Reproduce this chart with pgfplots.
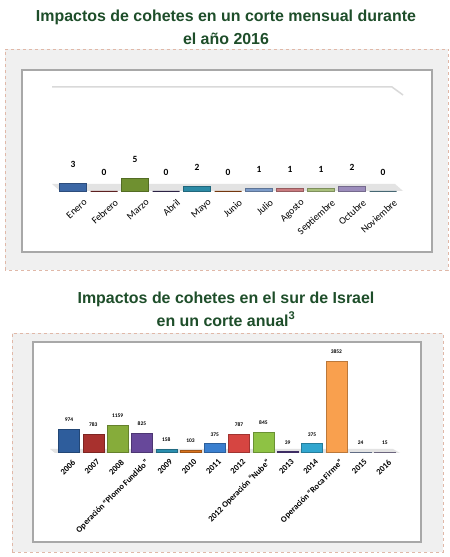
\documentclass[border=0pt]{standalone}
\usepackage{pgfplots}
\pgfplotsset{compat=1.18}
\usepackage{fontspec}
\setmainfont{Carlito}
\newfontfamily\titlefont{Liberation Sans}
\definecolor{titlegreen}{HTML}{1E4E2A}
\definecolor{peach}{HTML}{E0B8A8}
\definecolor{boxgray}{HTML}{F0F0F0}
\definecolor{innerborder}{HTML}{A8A8A8}
% top chart colours
\definecolor{t1}{HTML}{3C67A5}\definecolor{t2}{HTML}{7B2A2A}\definecolor{t3}{HTML}{6F9030}
\definecolor{t4}{HTML}{3B2E5A}\definecolor{t5}{HTML}{2C8AA5}\definecolor{t6}{HTML}{9A4A12}
\definecolor{t7}{HTML}{7D9CC9}\definecolor{t8}{HTML}{C97B7F}\definecolor{t9}{HTML}{A9C07C}
\definecolor{t10}{HTML}{9C8DBC}\definecolor{t11}{HTML}{5E8A99}
% bottom chart colours
\definecolor{b1}{HTML}{2E5D9C}\definecolor{b2}{HTML}{A8312E}\definecolor{b3}{HTML}{86AC3A}
\definecolor{b4}{HTML}{67489A}\definecolor{b5}{HTML}{2A8EAE}\definecolor{b6}{HTML}{D8731F}
\definecolor{b7}{HTML}{3A7FCF}\definecolor{b8}{HTML}{D64541}\definecolor{b9}{HTML}{8EC244}
\definecolor{b10}{HTML}{533C85}\definecolor{b11}{HTML}{31A6CF}\definecolor{b12}{HTML}{F9A04E}
\definecolor{b13}{HTML}{8090B0}\definecolor{b14}{HTML}{9088A8}
\newcommand\bbar[3]{\addplot[fill=#1, draw=#1!75!black] coordinates {(#2,#3)};}
\begin{document}
\begin{tikzpicture}[x=1bp,y=1bp]
\useasboundingbox (0,0) rectangle (450,557);
\fill[white] (0,0) rectangle (450,557);
% titles
\node[font=\titlefont\bfseries\fontsize{16}{23}\selectfont, text=titlegreen, align=center] at (226,530)
  {Impactos de cohetes en un corte mensual durante\\el año 2016};
\node[font=\titlefont\bfseries\fontsize{16}{23}\selectfont, text=titlegreen, align=center] at (226,248)
  {Impactos de cohetes en el sur de Israel\\en un corte anual\textsuperscript{3}};
% boxes
\draw[draw=peach, dashed, line width=0.8bp, fill=boxgray] (5,287) rectangle (448,508);
\draw[draw=innerborder, line width=1.3bp, fill=white] (22,305) rectangle (432,487);
\draw[draw=peach, dashed, line width=0.8bp, fill=boxgray] (12,5) rectangle (443,224);
\draw[draw=innerborder, line width=1.3bp, fill=white] (33,15) rectangle (421,215);
% top chart decorations
\draw[gray!30, line width=1.5bp] (52,470) -- (392,470) -- (403,462);
\fill[gray!22] (52,373) -- (395,373) -- (403,366) -- (60,366) -- cycle;
% bottom floor
\fill[gray!22] (50,108) -- (393,108) -- (400,104) -- (55,104) -- cycle;
\begin{axis}[
  at={(57.5bp,366bp)}, anchor=south west,
  scale only axis, width=341bp, height=104bp,
  xmin=-0.5, xmax=10.5, ymin=0, ymax=40,
  axis line style={draw=none}, ytick=\empty,
  xtick={0,...,10}, major tick length=0pt,
  xticklabels={Enero,Febrero,Marzo,Abril,Mayo,Junio,Julio,Agosto,Septiembre,Octubre,Noviembre},
  xticklabel style={rotate=42, anchor=north east, font=\fontsize{10}{12}\selectfont, xshift=6bp, yshift=-9bp},
  ybar, bar width=27bp, bar shift=0pt, clip=false,
  nodes near coords,
  nodes near coords style={/pgf/number format/assume math mode=true},
  every node near coord/.append style={font=\bfseries\fontsize{9.5}{10}\selectfont, yshift=12bp, text=black},
]
\bbar{t1}{0}{3}
\bbar{t2}{1}{0}
\bbar{t3}{2}{5}
\bbar{t4}{3}{0}
\bbar{t5}{4}{2}
\bbar{t6}{5}{0}
\bbar{t7}{6}{1}
\bbar{t8}{7}{1}
\bbar{t9}{8}{1}
\bbar{t10}{9}{2}
\bbar{t11}{10}{0}
\end{axis}
\begin{axis}[
  at={(56.85bp,104.5bp)}, anchor=south west,
  scale only axis, width=340.2bp, height=94.5bp,
  xmin=-0.5, xmax=13.5, ymin=0, ymax=4000,
  axis line style={draw=none}, ytick=\empty,
  xtick={0,...,13}, major tick length=0pt,
  xticklabels={2006,2007,2008,Operación ``Plomo Fundido'',2009,2010,2011,2012,2012 Operación ``Nube'',2013,2014,Operación ``Roca Firme'',2015,2016},
  xticklabel style={rotate=45, anchor=north east, font=\bfseries\fontsize{8.5}{10}\selectfont, xshift=1bp, yshift=-3bp},
  ybar, bar width=21bp, bar shift=0pt, clip=false,
  nodes near coords,
  nodes near coords style={/pgf/number format/1000 sep={}, /pgf/number format/assume math mode=true},
  every node near coord/.append style={font=\bfseries\fontsize{5.5}{6}\selectfont, yshift=4bp, text=black},
]
\bbar{b1}{0}{974}
\bbar{b2}{1}{783}
\bbar{b3}{2}{1159}
\bbar{b4}{3}{825}
\bbar{b5}{4}{158}
\bbar{b6}{5}{103}
\bbar{b7}{6}{375}
\bbar{b8}{7}{787}
\bbar{b9}{8}{845}
\bbar{b10}{9}{39}
\bbar{b11}{10}{375}
\bbar{b12}{11}{3852}
\bbar{b13}{12}{24}
\bbar{b14}{13}{15}
\end{axis}
\end{tikzpicture}
\end{document}
